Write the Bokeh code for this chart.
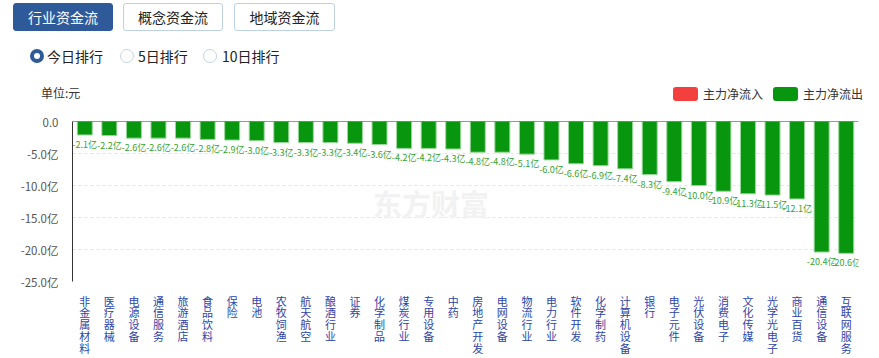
from bokeh.plotting import figure
from bokeh.models import Range1d, FixedTicker, Span, Label, Div, ColumnDataSource
from bokeh.layouts import column
from bokeh.embed import file_html
from bokeh.resources import INLINE
from bokeh.core.properties import value

# ---------------- data ----------------
categories = ["非金属材料", "医疗器械", "电源设备", "通信服务", "旅游酒店", "食品饮料", "保险", "电池",
              "农牧饲渔", "航天航空", "酿酒行业", "证券", "化学制品", "煤炭行业", "专用设备", "中药",
              "房地产开发", "电网设备", "物流行业", "电力行业", "软件开发", "化学制药", "计算机设备", "银行",
              "电子元件", "光伏设备", "消费电子", "文化传媒", "光学光电子", "商业百货", "通信设备", "互联网服务"]
net_flow = [-2.1, -2.2, -2.6, -2.6, -2.6, -2.8, -2.9, -3.0,
            -3.3, -3.3, -3.3, -3.4, -3.6, -4.2, -4.2, -4.3,
            -4.8, -4.8, -5.1, -6.0, -6.6, -6.9, -7.4, -8.3,
            -9.4, -10.0, -10.9, -11.3, -11.5, -12.1, -20.4, -20.6]
y_ticks = [0, -5, -10, -15, -20, -25]
y_tick_labels = ["0.0", "-5.0亿", "-10.0亿", "-15.0亿", "-20.0亿", "-25.0亿"]
tabs = ["行业资金流", "概念资金流", "地域资金流"]
periods = ["今日排行", "5日排行", "10日排行"]
legend_items = ["主力净流入", "主力净流出"]
unit_label = "单位:元"
watermark = "东方财富"

FONT = "Noto Sans CJK SC"
GREEN = "#07960d"
RED = "#f43f3f"
BLUE = "#2f5a9a"
W = 879

# ---------------- header (HTML) ----------------
tab_left = [13, 123, 234]
tab_w = [100, 100, 101]
radio_left = [30, 120, 203]
text_left = [47, 138, 222]
parts = ['<div style="position:relative;width:%dpx;height:110px;font-family:\'%s\';color:#333;">' % (W, FONT)]
for i, t in enumerate(tabs):
    if i == 0:
        st = "background:%s;color:#fff;border:1px solid %s;" % (BLUE, BLUE)
    else:
        st = "background:#fff;color:#222;border:1px solid #bcd0e6;"
    parts.append('<div style="position:absolute;box-sizing:border-box;left:%dpx;top:3px;width:%dpx;height:28px;'
                 'border-radius:3px;%sfont-size:14px;line-height:26px;text-align:center;">%s</div>'
                 % (tab_left[i], tab_w[i], st, t))
for i, t in enumerate(periods):
    if i == 0:
        cst = "border:4px solid %s;" % BLUE
    else:
        cst = "border:1px solid #c6d3e0;"
    parts.append('<div style="position:absolute;box-sizing:border-box;left:%dpx;top:49px;width:14px;height:14px;'
                 'border-radius:50%%;background:#fff;%s"></div>' % (radio_left[i], cst))
    parts.append('<div style="position:absolute;left:%dpx;top:47px;font-size:14px;line-height:18px;color:#222;">%s</div>'
                 % (text_left[i], t))
parts.append('<div style="position:absolute;left:41px;top:86px;font-size:12px;line-height:14px;color:#333;">%s</div>'
             % unit_label)
sw_left = [673, 773]
sw_col = [RED, GREEN]
for i, t in enumerate(legend_items):
    parts.append('<div style="position:absolute;left:%dpx;top:87px;width:25px;height:14px;border-radius:3px;'
                 'background:%s;"></div>' % (sw_left[i], sw_col[i]))
    parts.append('<div style="position:absolute;left:%dpx;top:86px;font-size:12px;line-height:16px;color:#333;">%s</div>'
                 % (sw_left[i] + 30, t))
parts.append('</div>')
header = Div(text="".join(parts), width=W, height=110, margin=0)

# ---------------- chart ----------------
xs = list(range(len(categories)))
src = ColumnDataSource(dict(x=xs, v=net_flow, lab=["%.1f亿" % v for v in net_flow]))

p = figure(width=W, height=248, x_range=Range1d(-0.5, len(categories) - 0.5),
           y_range=Range1d(-25, 0), output_backend="svg", toolbar_location=None,
           min_border_left=72, min_border_right=21, min_border_top=11, min_border_bottom=69,
           title=None)
p.outline_line_color = None
p.xgrid.visible = False
p.ygrid.grid_line_color = "#e3e3e3"
p.ygrid.grid_line_dash = "3 3"

p.add_layout(Label(x=14.1, y=-12.8, text=watermark, text_font=FONT, text_font_size="29px",
                   text_font_style="bold", text_color="#f2f2f2", text_align="center",
                   text_baseline="middle", level="underlay"))

p.vbar(x="x", top=0, bottom="v", width=0.61, fill_color=GREEN, line_color="#9bd79b",
       line_width=1, source=src)
p.text(x="x", y="v", text="lab", source=src, text_font=value(FONT), text_font_size="9px",
       text_color="#33a333", text_align="center", text_baseline="top", y_offset=3)
p.add_layout(Span(location=0, dimension="width", line_color="#333333", line_width=1))

ya = p.yaxis[0]
ya.ticker = FixedTicker(ticks=y_ticks)
ya.major_label_overrides = {t: l for t, l in zip(y_ticks, y_tick_labels)}
ya.axis_line_color = "#333333"
ya.major_tick_line_color = None
ya.minor_tick_line_color = None
ya.major_label_text_font = FONT
ya.major_label_text_font_size = "11.5px"
ya.major_label_text_color = "#555555"
ya.major_label_standoff = 8

xa = p.xaxis[0]
xa.ticker = FixedTicker(ticks=xs)
xa.major_label_overrides = {i: "\n".join(c) for i, c in zip(xs, categories)}
xa.axis_line_color = None
xa.major_tick_line_color = None
xa.minor_tick_line_color = None
xa.major_label_text_font = FONT
xa.major_label_text_font_size = "11px"
xa.major_label_text_line_height = 0.74
xa.major_label_text_color = "#2e45a6"
xa.major_label_standoff = 5

layout = column(header, p, spacing=0)
open("out.html", "w").write(file_html(layout, INLINE))
